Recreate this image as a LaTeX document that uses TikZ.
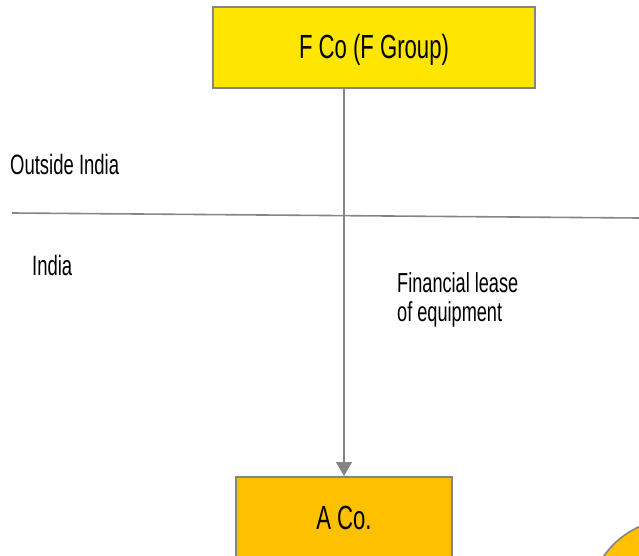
\documentclass[tikz,border=0pt]{standalone}
\usepackage{fontspec}
\setmainfont[FakeStretch=0.66]{Liberation Sans}
\usetikzlibrary{arrows.meta}
\definecolor{boxyellow}{HTML}{FFE600}
\definecolor{boxamber}{HTML}{FFC000}
\definecolor{linegray}{HTML}{858585}
\tikzset{
  entity/.style={draw=linegray, line width=1.6pt, inner sep=0pt},
  biglabel/.style={inner sep=0pt, font=\fontsize{33.5}{38}\selectfont},
  sidelabel/.style={inner sep=0pt, font=\fontsize{28}{32}\selectfont},
  notelabel/.style={inner sep=0pt, align=left, font=\fontsize{27.5}{29}\selectfont},
  flow/.style={draw=linegray, line width=1.6pt, -{Triangle[length=14pt,width=16pt]}},
  border/.style={draw=linegray, line width=1.6pt}
}
\begin{document}
\begin{tikzpicture}[x=1pt, y=-1pt]
  \useasboundingbox (0,0) rectangle (639,556);
  \clip (0,0) rectangle (639,556);

  % parent company
  \node (fco) [entity, fill=boxyellow, minimum width=322pt, minimum height=81pt] at (374,47.5) {};
  \node (fcotext) [biglabel, anchor=base] at (374,59) {F Co (F Group)};

  % Indian company
  \node (aco) [entity, fill=boxamber, minimum width=216pt, minimum height=120pt, anchor=north] at (344,476) {};
  \node (acotext) [biglabel, anchor=base] at (344,529) {A Co.};

  % partial circle at the corner
  \node (disc) [entity, circle, fill=boxamber, minimum size=174pt] at (675,606) {};

  % border between jurisdictions
  \coordinate (bl) at (12,213);
  \coordinate (br) at (639,218);
  \draw[border] (bl) -- (br);

  \node (outside) [sidelabel, anchor=base west] at (10,175) {Outside India};
  \node (india) [sidelabel, anchor=base west] at (32,275) {India};

  % lease flow
  \draw[flow] (aco.north |- fco.south) -- (aco.north);
  \node (lease) [notelabel, anchor=base west] at (397,321) {Financial lease\\of equipment};
\end{tikzpicture}
\end{document}
